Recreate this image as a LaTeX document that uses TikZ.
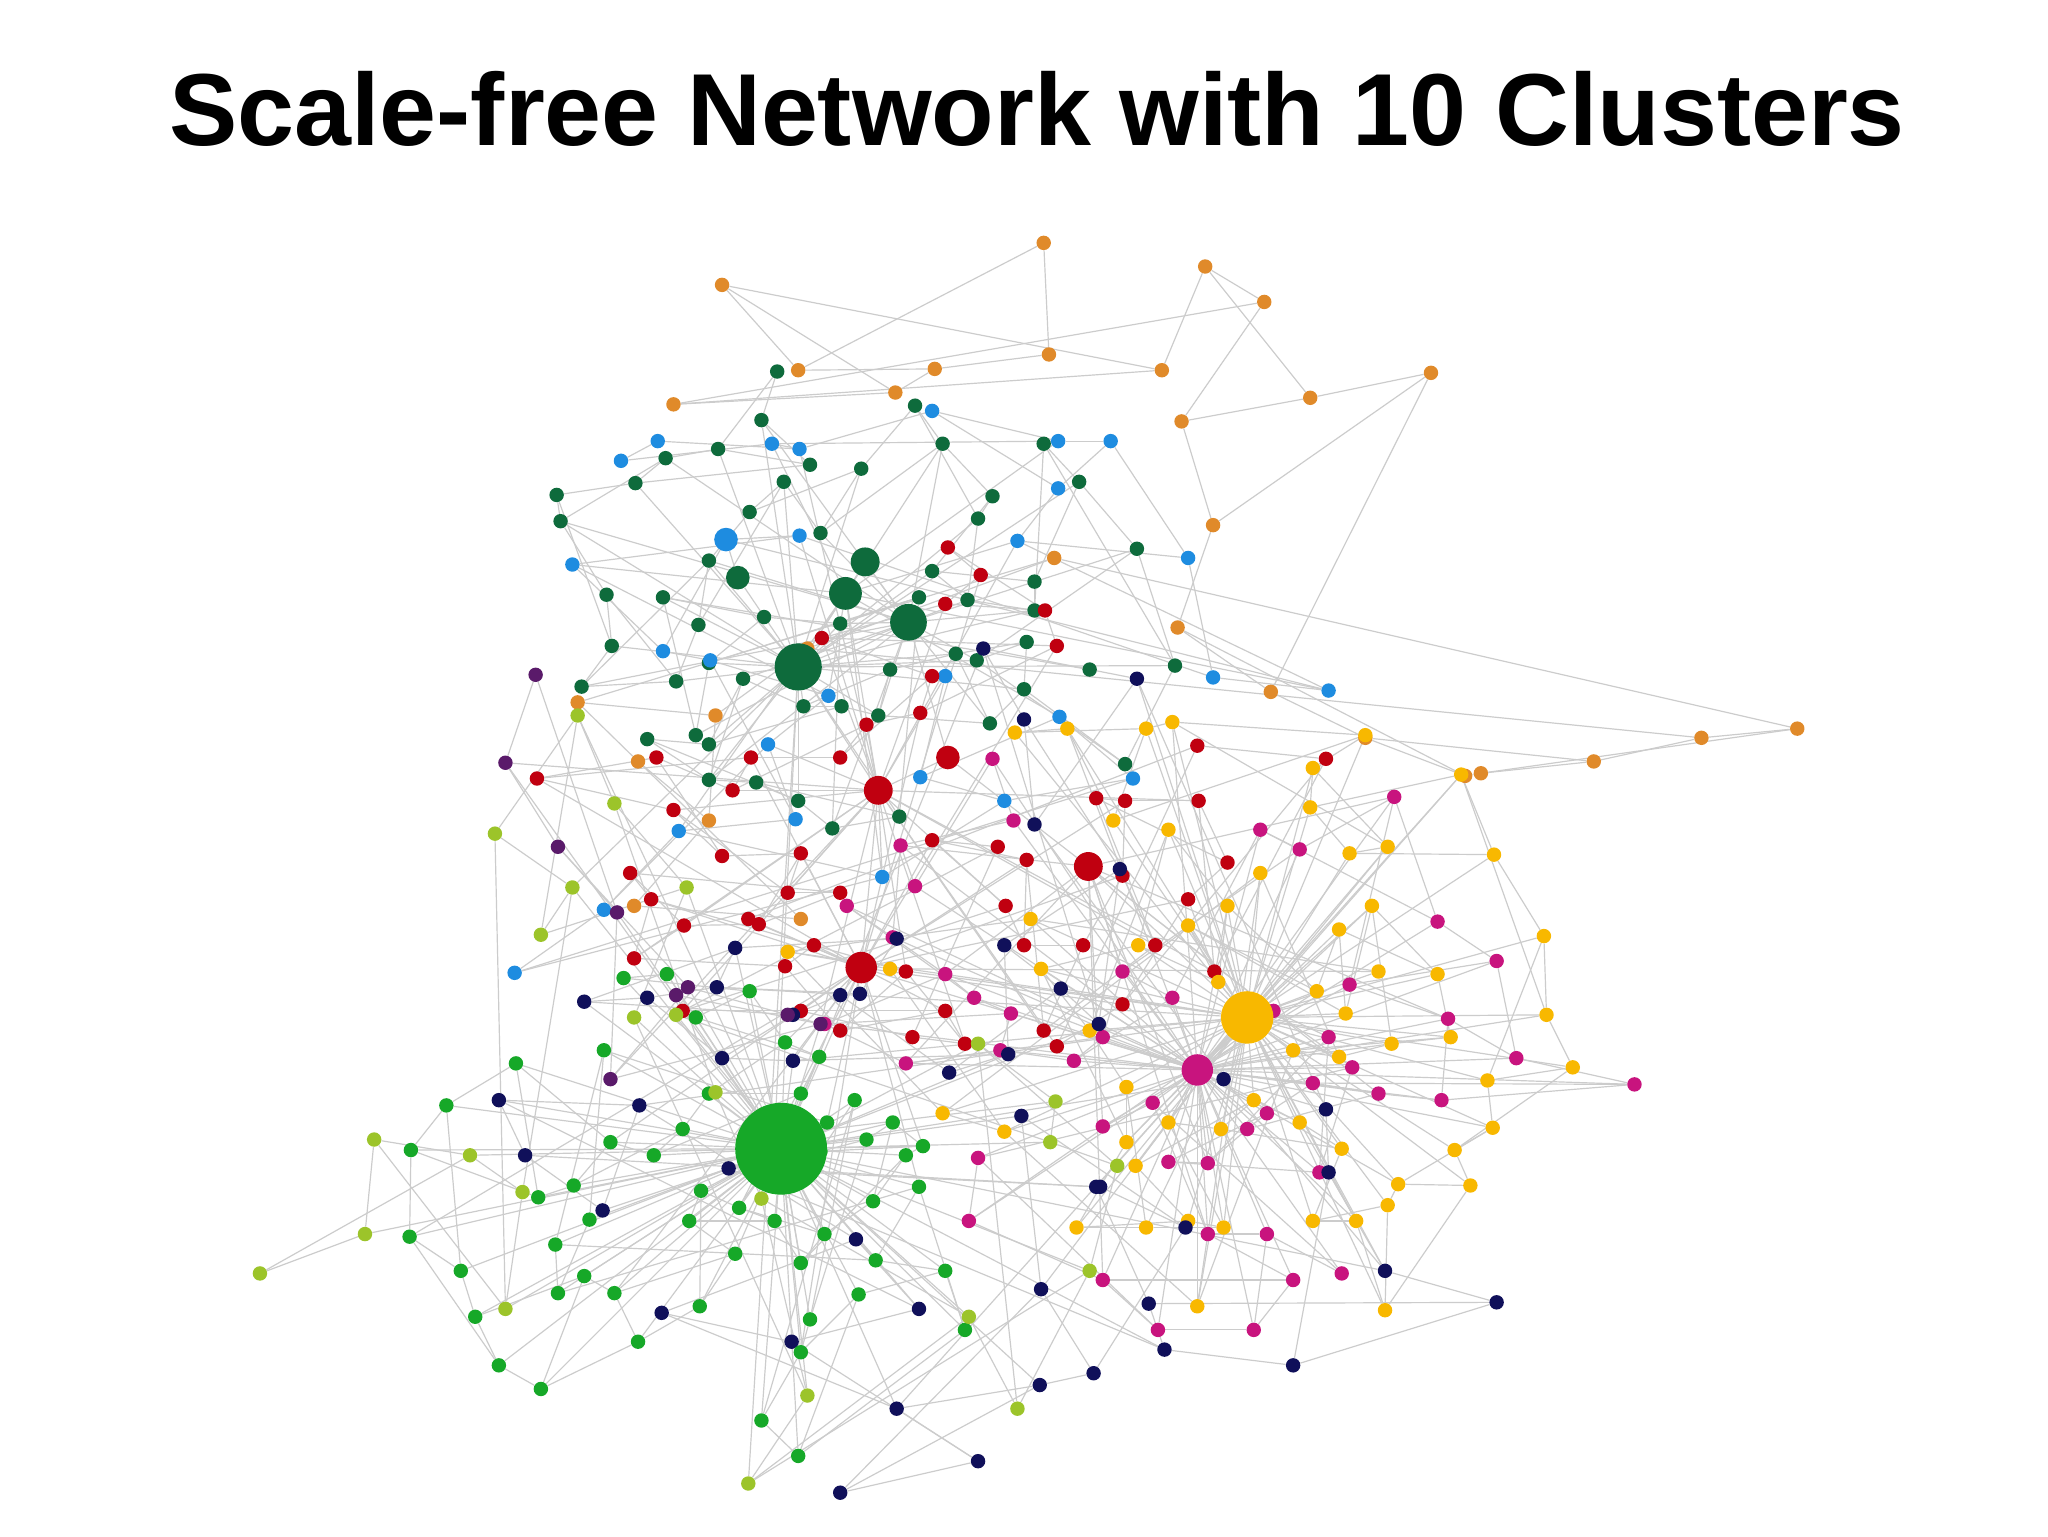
\documentclass[tikz,border=0pt]{standalone}
\usepackage{fontspec}
\setmainfont{Liberation Sans}
\pgfdeclarelayer{bg}
\pgfsetlayers{bg,main}
\definecolor{cor}{HTML}{E08A2A}
\definecolor{cdg}{HTML}{0E6B3C}
\definecolor{cbl}{HTML}{1E8CE0}
\definecolor{cre}{HTML}{C00010}
\definecolor{cma}{HTML}{C8147E}
\definecolor{cye}{HTML}{F8B800}
\definecolor{cnv}{HTML}{10105A}
\definecolor{cgr}{HTML}{16A828}
\definecolor{cyg}{HTML}{9CC42A}
\definecolor{cpu}{HTML}{5A1A6A}
\tikzset{dot/.style={circle,inner sep=0pt,minimum size=11pt,draw=none},
 edge/.style={draw=gray!40,line width=0.9pt},
 hub/.style={circle,inner sep=0pt,draw=none}}
\newcommand\mkcl[3]{\foreach \p [count=\i] in {#3}{\node[dot,fill=#2] (#1\i) at \p {};\xdef\lastn{\i}}\expandafter\xdef\csname cnt#1\endcsname{\lastn}}
% prefix, hubA, kA, hubB, kB
\newcommand\lk[5]{\edef\mycnt{\csname cnt#1\endcsname}%
 \foreach \i in {2,...,\mycnt}{\pgfmathtruncatemacro\j{\i-1}\draw[edge] (#1\i)--(#1\j);}%
 \foreach \i in {4,...,\mycnt}{\pgfmathtruncatemacro\j{\i-3}\pgfmathtruncatemacro\m{mod(\i,2)}\ifnum\m=0 \draw[edge] (#1\i)--(#1\j);\fi}%
 \foreach \i in {1,...,\mycnt}{\pgfmathtruncatemacro\m{mod(\i,#3)}\ifnum\m=0 \draw[edge] (#1\i)--(#2);\fi
   \pgfmathtruncatemacro\m{mod(\i+1,#5)}\ifnum\m=0 \draw[edge] (#1\i)--(#4);\fi}}
\begin{document}
\begin{tikzpicture}[x=1pt,y=-1pt]
\useasboundingbox (0,0) rectangle (1560,1170);
\begin{pgfonlayer}{bg}
\fill[white] (0,0) rectangle (1560,1170);
\end{pgfonlayer}
\node (title) at (790,83) {\fontsize{78}{86}\selectfont\bfseries Scale-free Network with 10 Clusters};
\mkcl{o}{cor}{(795,185),(799,270),(712,281),(608,282),(550,217),(682,299),(513,308),(885,282),(918,203),(963,230),(900,321),(998,303),(1090,284),(924,400),(897,478),(968,527),(1040,562),(1116,591),(1128,589),(1214,580),(1296,562),(1369,555),(803,425),(615,494),(545,545),(440,535),(486,580),(540,625),(483,690),(610,700)}
\mkcl{g}{cdg}{(592,283),(580,320),(617,354),(547,342),(507,349),(484,368),(424,377),(427,397),(462,453),(466,492),(443,523),(515,519),(532,476),(540,427),(571,390),(597,367),(625,406),(656,357),(697,309),(718,338),(756,378),(745,395),(737,457),(710,435),(788,443),(788,465),(795,338),(822,367),(866,418),(895,507),(857,582),(744,503),(782,489),(780,525),(754,551),(728,498),(678,510),(669,545),(641,538),(612,538),(566,517),(540,567),(493,563),(540,594),(576,596),(608,610),(634,631),(685,622),(700,455),(640,475),(582,470),(540,505),(530,560),(505,455),(830,510)}
\mkcl{b}{cbl}{(501,336),(473,351),(588,338),(609,342),(710,313),(806,336),(846,336),(806,372),(775,412),(905,425),(924,516),(1012,526),(553,411),(609,408),(436,430),(505,496),(541,503),(631,530),(585,567),(606,624),(517,633),(460,693),(392,741),(672,668),(765,610),(863,593),(807,546),(701,592),(720,515)}
\mkcl{r}{cre}{(722,417),(747,438),(720,460),(796,465),(805,492),(626,486),(710,515),(701,543),(660,552),(640,577),(572,577),(558,602),(500,577),(409,593),(513,617),(550,652),(610,650),(600,680),(640,680),(578,704),(521,705),(480,665),(496,685),(483,730),(598,736),(620,720),(690,740),(640,785),(720,770),(735,795),(695,790),(610,770),(520,770),(760,645),(710,640),(766,690),(780,720),(782,655),(795,785),(825,720),(855,667),(880,720),(835,608),(857,610),(913,610),(935,657),(905,685),(925,740),(1010,578),(855,765),(805,797),(912,568),(570,700)}
\mkcl{m}{cma}{(756,578),(772,625),(686,644),(697,675),(645,690),(680,714),(720,742),(742,760),(770,772),(628,780),(690,810),(762,800),(818,808),(840,790),(855,740),(893,760),(960,632),(990,647),(1062,607),(1095,702),(1140,732),(1028,750),(1103,776),(1155,806),(1245,826),(1098,838),(1050,833),(1000,825),(965,848),(950,860),(920,886),(890,885),(1005,893),(1012,790),(970,770),(1030,813),(745,882),(738,930),(840,975),(882,1013),(955,1013),(985,975),(920,940),(965,940),(1022,970),(878,840),(840,858)}
\mkcl{y}{cye}{(773,558),(813,555),(848,625),(873,555),(893,550),(1040,560),(1000,585),(1057,645),(1028,650),(998,615),(1113,590),(1138,651),(1176,713),(1178,773),(1198,813),(1133,823),(1137,859),(1108,876),(1120,903),(1065,902),(1057,918),(1055,998),(1033,930),(1000,930),(1022,875),(990,855),(955,838),(930,860),(890,855),(865,888),(905,930),(932,935),(873,935),(820,935),(858,870),(858,828),(830,785),(793,738),(867,720),(890,632),(935,690),(928,748),(905,705),(1003,755),(1020,708),(1025,772),(1045,690),(1095,742),(1105,790),(1060,795),(1020,805),(985,800),(912,995),(960,665),(718,848),(765,862),(678,738),(600,725),(785,700),(1050,740)}
\mkcl{n}{cnv}{(655,757),(683,715),(560,722),(546,752),(493,760),(445,763),(604,773),(550,806),(604,808),(640,758),(723,817),(768,803),(765,720),(808,753),(837,780),(853,662),(780,548),(749,494),(866,517),(788,628),(932,822),(1010,845),(1012,893),(1055,968),(1140,992),(985,1040),(887,1028),(875,993),(835,904),(555,890),(459,922),(400,880),(380,838),(487,842),(652,944),(700,997),(603,1022),(504,1000),(683,1073),(745,1113),(640,1137),(792,1055),(833,1046),(793,982),(778,850),(903,935),(838,904)}
\mkcl{c}{cgr}{(475,745),(508,742),(530,775),(571,755),(598,794),(624,805),(610,833),(540,833),(520,860),(498,880),(465,870),(437,903),(410,912),(393,810),(340,842),(313,876),(312,942),(351,968),(362,1003),(380,1040),(412,1058),(445,972),(468,985),(486,1022),(533,995),(560,955),(525,930),(534,907),(563,920),(590,930),(610,962),(628,940),(665,915),(690,880),(703,873),(680,855),(660,868),(625,877),(651,838),(617,1005),(610,1030),(580,1082),(608,1109),(654,986),(720,968),(735,1013),(700,904),(667,960),(423,948),(425,985),(449,929),(460,800),(630,855)}
\mkcl{v}{cyg}{(198,970),(278,940),(285,868),(358,880),(398,908),(385,997),(377,635),(436,676),(412,712),(440,545),(468,612),(523,676),(483,775),(545,832),(580,913),(615,1063),(570,1130),(738,1003),(775,1073),(830,968),(851,888),(745,795),(804,839),(800,870),(515,773),(590,865)}
\mkcl{p}{cpu}{(408,514),(385,581),(425,645),(470,695),(465,822),(524,752),(600,773),(625,780),(515,758)}
% hubs
\node[hub,fill=cdg,minimum size=36pt] (G1) at (608,508) {};
\node[hub,fill=cdg,minimum size=28pt] (G2) at (692,474) {};
\node[hub,fill=cdg,minimum size=25pt] (G3) at (644,452) {};
\node[hub,fill=cdg,minimum size=22pt] (G4) at (659,428) {};
\node[hub,fill=cdg,minimum size=18pt] (G5) at (562,440) {};
\node[hub,fill=cre,minimum size=22pt] (R1) at (669,602) {};
\node[hub,fill=cre,minimum size=24pt] (R2) at (656,737) {};
\node[hub,fill=cre,minimum size=22pt] (R3) at (829,660) {};
\node[hub,fill=cre,minimum size=18pt] (R4) at (722,577) {};
\node[hub,fill=cgr,minimum size=70pt] (C0) at (595,875) {};
\node[hub,fill=cye,minimum size=40pt] (Y0) at (950,775) {};
\node[hub,fill=cma,minimum size=24pt] (M0) at (912,815) {};
\node[hub,fill=cbl,minimum size=18pt] (B0) at (553,411) {};
\begin{pgfonlayer}{bg}
\lk{o}{G4}{100}{G2}{100}
\lk{g}{G1}{2}{G2}{3}
\lk{b}{G3}{3}{R1}{5}
\lk{r}{R1}{3}{R2}{3}
\lk{m}{M0}{1}{R3}{4}
\lk{y}{Y0}{1}{M0}{3}
\lk{n}{C0}{3}{Y0}{5}
\lk{c}{C0}{1}{R2}{6}
\lk{v}{C0}{2}{G1}{9}
\lk{p}{C0}{2}{R1}{3}
\draw[edge] (G1)--(G2) (G1)--(G3) (G3)--(G4) (G2)--(G4) (G1)--(G5) (G5)--(B0) (G1)--(R1) (R1)--(R4) (G2)--(R4) (R1)--(R2) (R2)--(C0) (R3)--(Y0) (Y0)--(M0) (R3)--(R4) (R2)--(M0) (G3)--(R1) (R4)--(R3);
\end{pgfonlayer}
\end{tikzpicture}
\end{document}
